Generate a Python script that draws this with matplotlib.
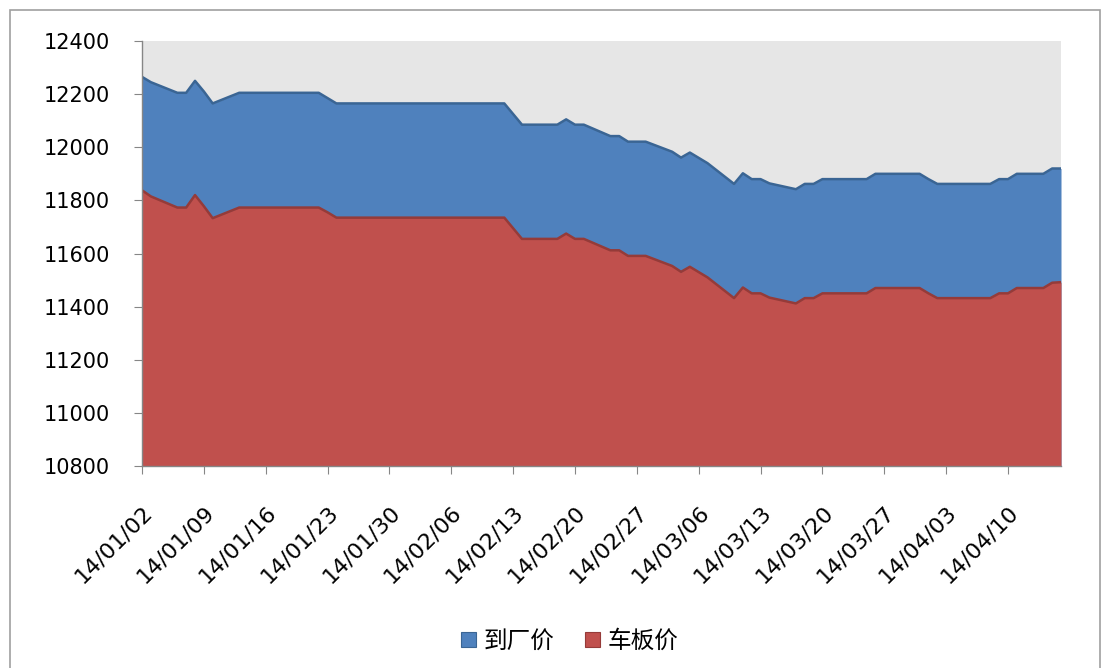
import matplotlib
matplotlib.use("Agg")
import matplotlib.pyplot as plt
import matplotlib.patches as mpatches
import pandas as pd

# ---- data ----
dates = pd.bdate_range("2014-01-02", "2014-04-16")

arrive_price = [  # 到厂价
    12265, 12245, 12205, 12205, 12250, 12210, 12165, 12205, 12205, 12205,
    12205, 12205, 12205, 12205, 12205, 12185, 12165, 12165, 12165, 12165,
    12165, 12165,
    12165, 12165, 12165, 12165, 12165, 12165, 12165, 12165, 12125, 12085,
    12085, 12085, 12105, 12085, 12085, 12042, 12042, 12021, 12021, 12021,
    11983, 11961, 11980, 11960, 11940, 11862, 11902, 11880, 11880, 11864,
    11842, 11862, 11862, 11880, 11880, 11880, 11880, 11900, 11900, 11900,
    11900,
    11880, 11862, 11862, 11862, 11862, 11862, 11880, 11880, 11900, 11900,
    11920, 11920,
]
wagon_price = [  # 车板价
    11838, 11815, 11773, 11773, 11820, 11778, 11733, 11773, 11773, 11773,
    11773, 11773, 11773, 11773, 11773, 11755, 11735, 11735, 11735, 11735,
    11735, 11735,
    11735, 11735, 11735, 11735, 11735, 11735, 11735, 11735, 11695, 11655,
    11655, 11655, 11675, 11655, 11655, 11612, 11612, 11591, 11591, 11591,
    11553, 11531, 11550, 11530, 11510, 11432, 11472, 11450, 11450, 11434,
    11412, 11432, 11432, 11450, 11450, 11450, 11450, 11470, 11470, 11470,
    11470,
    11450, 11432, 11432, 11432, 11432, 11432, 11450, 11450, 11470, 11470,
    11490, 11492,
]
series_names = ["到厂价", "车板价"]
y_ticks = list(range(10800, 12401, 200))
x_tick_dates = pd.date_range("2014-01-02", periods=15, freq="7D")

# ---- figure ----
W, H = 1102, 668
fig = plt.figure(figsize=(W / 100, H / 100), dpi=100)
fig.patch.set_facecolor("white")

border = mpatches.Rectangle((10 / W, -0.01), 1090 / W, (H - 10) / H + 0.01,
                            transform=fig.transFigure, fill=False,
                            edgecolor="#a0a0a0", linewidth=1.2)
fig.patches.append(border)

ax = fig.add_axes([142 / W, 1 - 466 / H, (1061 - 142) / W, (466 - 41) / H])
ax.set_facecolor("#e6e6e6")

blue, blue_edge = "#4f81bd", "#3a6594"
red, red_edge = "#c0504d", "#953b39"
base = y_ticks[0]

ax.fill_between(dates, arrive_price, base, color=blue, linewidth=0, zorder=2)
ax.plot(dates, arrive_price, color=blue_edge, linewidth=1.8, zorder=3)
ax.fill_between(dates, wagon_price, base, color=red, linewidth=0, zorder=4)
ax.plot(dates, wagon_price, color=red_edge, linewidth=1.8, zorder=5)

ax.set_xlim(dates[0], dates[-1])
ax.set_ylim(y_ticks[0], y_ticks[-1])
ax.set_yticks(y_ticks)
ax.set_yticklabels([str(v) for v in y_ticks], family="DejaVu Sans", fontsize=15)
ax.set_xticks(x_tick_dates)
ax.set_xticklabels([d.strftime("%y/%m/%d") for d in x_tick_dates],
                   rotation=45, ha="right", rotation_mode="anchor",
                   family="DejaVu Sans", fontsize=16)

for s in ["top", "right"]:
    ax.spines[s].set_visible(False)
for s in ["left", "bottom"]:
    ax.spines[s].set_color("#868686")
    ax.spines[s].set_linewidth(1.0)
    ax.spines[s].set_zorder(6)
ax.tick_params(axis="both", direction="out", length=6, color="#868686",
               labelcolor="black")
ax.tick_params(axis="y", pad=17)
ax.tick_params(axis="x", pad=20)

handles = [mpatches.Patch(facecolor=blue, edgecolor=blue_edge, linewidth=0.8),
           mpatches.Patch(facecolor=red, edgecolor=red_edge, linewidth=0.8)]
fig.legend(handles, series_names, loc="center", bbox_to_anchor=(570 / W, 1 - 641 / H),
           ncol=2, frameon=False, handlelength=0.6, handleheight=0.6,
           handletextpad=0.35, columnspacing=1.3,
           prop={"family": ["Noto Sans CJK SC", "DejaVu Sans"], "size": 17})

fig.savefig("out.png", dpi=100, facecolor="white")
